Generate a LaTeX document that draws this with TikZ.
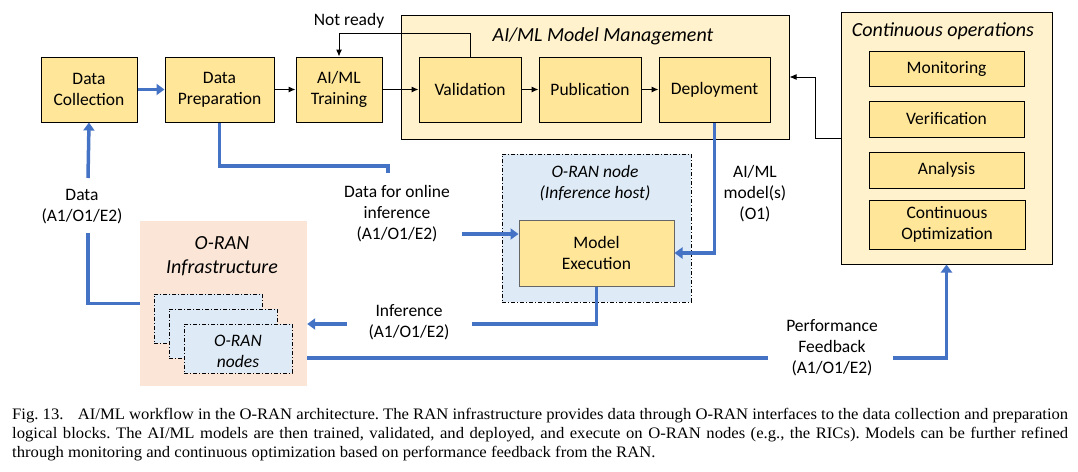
\documentclass[tikz,border=0pt]{standalone}
\usepackage{fontspec}
\setmainfont{Carlito}
\newfontfamily\capfont[FakeStretch=1.04]{Liberation Serif}
\usetikzlibrary{arrows.meta}
\definecolor{ybox}{HTML}{FFE699}
\definecolor{ygrp}{HTML}{FFF2CC}
\definecolor{bfill}{HTML}{DEEBF7}
\definecolor{peach}{HTML}{FBE5D6}
\definecolor{bline}{HTML}{4472C4}
\tikzset{
  x=1pt, y=-1pt,
  txt/.style={font=\fontsize{17.5}{21}\selectfont, align=center, inner sep=0pt},
  ttl/.style={font=\fontsize{20}{24}\selectfont\itshape, align=center, inner sep=0pt},
  blockbox/.style={txt, draw=black, line width=1pt, fill=ybox},
  grpbox/.style={draw=black, line width=1pt, fill=ygrp, inner sep=0pt},
  dashdot/.style={draw=black, line width=0.8pt, dash pattern=on 4pt off 2pt on 1pt off 2pt},
  thinarrow/.style={draw=black, line width=1pt, -{Latex[length=7pt,width=6pt]}},
  blueline/.style={draw=bline, line width=3.5pt},
  bluearrow/.style={blueline, -{Triangle[length=8pt,width=11pt]}},
}
\begin{document}
\begin{tikzpicture}
\useasboundingbox (0,0) rectangle (1078,471);
% groups
\node[grpbox, minimum width=388pt, minimum height=124pt] (mm) at (595,77) {};
\node[ttl] (mmt) at (603,36) {AI/ML Model Management};
\node[grpbox, minimum width=211pt, minimum height=252pt] (co) at (946.5,138) {};
\node[ttl] (cot) at (943,31) {Continuous operations};
% top blocks
\node[blockbox, minimum width=96pt, minimum height=65pt] (dc) at (89,89.5) {Data\\Collection};
\node[blockbox, minimum width=109pt, minimum height=65pt] (dp) at (219.5,89.5) {Data\\Preparation};
\node[blockbox, minimum width=86pt, minimum height=65pt] (tr) at (339,89.5) {AI/ML\\Training};
\node[blockbox, minimum width=102pt, minimum height=65pt] (val) at (470,89.5) {Validation};
\node[blockbox, minimum width=102pt, minimum height=65pt] (pub) at (590,89.5) {Publication};
\node[blockbox, minimum width=111pt, minimum height=65pt] (dep) at (714.5,89.5) {Deployment};
\node[txt] (nr) at (349,21) {Not ready};
% continuous ops blocks
\node[blockbox, minimum width=155pt, minimum height=35pt] (mon) at (946.5,68.5) {Monitoring};
\node[blockbox, minimum width=155pt, minimum height=36pt] (ver) at (946.5,119) {Verification};
\node[blockbox, minimum width=155pt, minimum height=36pt] (ana) at (946.5,170) {Analysis};
\node[blockbox, minimum width=156pt, minimum height=49pt] (opt) at (947,224.5) {Continuous\\Optimization};
% inference host
\node[dashdot, fill=bfill, minimum width=189pt, minimum height=148pt, inner sep=0pt] (oh) at (596.5,228) {};
\node[txt, font=\fontsize{17.5}{21}\selectfont\itshape] (oht) at (595,183) {O-RAN node\\(Inference host)};
\node[blockbox, draw=black!60, minimum width=155pt, minimum height=66pt] (me) at (596.5,253) {Model\\Execution};
% infrastructure
\node[fill=peach, minimum width=167pt, minimum height=165pt, inner sep=0pt] (inf) at (223.5,303.5) {};
\node[ttl] (inft) at (222,256) {O-RAN\\Infrastructure};
\node[dashdot, fill=bfill, minimum width=108pt, minimum height=49pt, inner sep=0pt] (r1) at (208,318.5) {};
\node[dashdot, fill=bfill, minimum width=108pt, minimum height=49pt, inner sep=0pt] (r2) at (223,333.5) {};
\node[dashdot, fill=bfill, minimum width=108pt, minimum height=49pt, inner sep=0pt] (r3) at (238,348.5) {};
\node[txt, font=\fontsize{17.5}{21}\selectfont\itshape] (r3t) at (238,351) {O-RAN\\nodes};
% labels
\node[txt] (ldata) at (82,207) {Data\\(A1/O1/E2)};
\node[txt] (lonline) at (397,214) {Data for online\\inference\\(A1/O1/E2)};
\node[txt] (lmodel) at (755,194) {AI/ML\\model(s)\\(O1)};
\node[txt] (linf) at (409,322) {Inference\\(A1/O1/E2)};
\node[txt] (lperf) at (832,348) {Performance\\Feedback\\(A1/O1/E2)};
% coordinates
\coordinate (cdata1) at (88,233);
\coordinate (cdata2) at (88,178);
\coordinate (conl1) at (388,173);
\coordinate (conl2) at (462,234);
\coordinate (cinf1) at (472,324);
\coordinate (cinf2) at (347,324);
\coordinate (cperf1) at (768,358);
\coordinate (cperf2) at (893,358);
\coordinate (cco) at (815,138);
% black connectors
\draw[thinarrow] (dp) -- (tr);
\draw[thinarrow] (tr) -- (val);
\draw[thinarrow] (val) -- (pub);
\draw[thinarrow] (pub) -- (dep);
\draw[thinarrow] (val.north) -- ++(0,-23) -| (tr.north);
\draw[thinarrow] (co.west) -- (cco) |- (mm.east);
% blue connectors
\draw[bluearrow] (dc) -- (dp);
\draw[blueline] (inf.west) -| (cdata1);
\draw[bluearrow] (cdata2) -- (dc.south);
\draw[blueline] (dp.south) |- (388,166) -- (conl1);
\draw[bluearrow] (conl2) -- ([yshift=19pt]me.west);
\draw[bluearrow] (dep.south) |- (me.east);
\draw[blueline] (me.south) |- (cinf1);
\draw[bluearrow] (cinf2) -- ([yshift=-20.5pt]inf.east);
\draw[blueline] ([yshift=-54.5pt]inf.east) -- (cperf1);
\draw[bluearrow] (cperf2) -| (co.south);
% caption
\node[anchor=north west, inner sep=0pt, text width=1056pt, align=justify,
  font=\capfont\fontsize{16}{19}\selectfont\frenchspacing] (cap) at (12,408)
  {Fig.~13.\hspace{0.9em}AI/ML workflow in the O-RAN architecture. The RAN infrastructure provides data through O-RAN interfaces to the data collection and preparation\linebreak logical blocks. The AI/ML models are then trained, validated, and deployed, and execute on O-RAN nodes (e.g., the RICs). Models can be further refined\linebreak through monitoring and continuous optimization based on performance feedback from the RAN.};
\end{tikzpicture}
\end{document}
